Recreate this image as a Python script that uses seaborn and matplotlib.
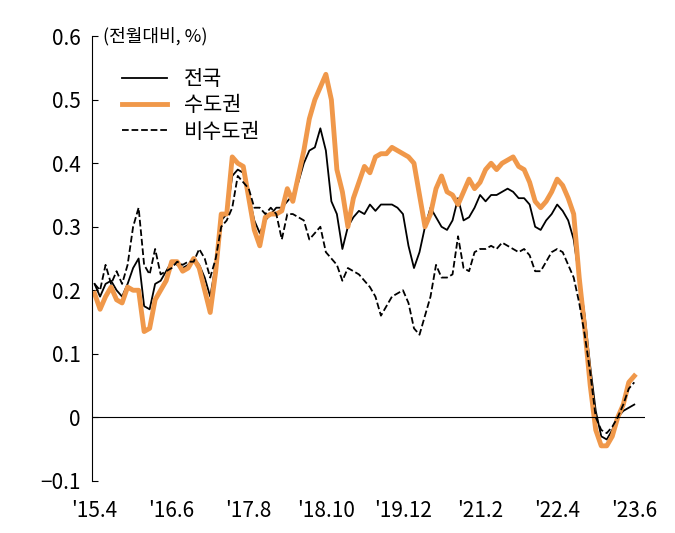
import pandas as pd
import numpy as np
import matplotlib
matplotlib.use("Agg")
import matplotlib.pyplot as plt
import seaborn as sns

plt.rcParams['font.family'] = 'Noto Sans CJK KR'

# monthly, 2015.4 ~ 2023.6
national = [0.21, 0.19, 0.21, 0.215, 0.20, 0.19, 0.21, 0.235, 0.25, 0.175,
            0.17, 0.21, 0.215, 0.23, 0.245, 0.24, 0.235, 0.24, 0.25, 0.24,
            0.22, 0.19, 0.24, 0.31, 0.32, 0.38, 0.39, 0.385, 0.35, 0.31,
            0.29, 0.31, 0.32, 0.33, 0.33, 0.34, 0.35, 0.37, 0.40, 0.42,
            0.425, 0.455, 0.42, 0.34, 0.32, 0.265, 0.30, 0.315, 0.325, 0.32,
            0.335, 0.325, 0.335, 0.335, 0.335, 0.33, 0.32, 0.27, 0.235, 0.26,
            0.30, 0.33, 0.315, 0.30, 0.295, 0.31, 0.345, 0.31, 0.315, 0.33,
            0.35, 0.34, 0.35, 0.35, 0.355, 0.36, 0.355, 0.345, 0.345, 0.335,
            0.30, 0.295, 0.31, 0.32, 0.335, 0.325, 0.31, 0.28, 0.22, 0.16,
            0.08, 0.01, -0.03, -0.035, -0.02, 0.0, 0.01, 0.015, 0.02]
capital = [0.195, 0.17, 0.19, 0.205, 0.185, 0.18, 0.205, 0.2, 0.2, 0.135,
           0.14, 0.185, 0.20, 0.215, 0.245, 0.245, 0.23, 0.235, 0.25, 0.235,
           0.20, 0.165, 0.23, 0.32, 0.32, 0.41, 0.40, 0.395, 0.345, 0.295,
           0.27, 0.315, 0.32, 0.32, 0.325, 0.36, 0.34, 0.38, 0.42, 0.47,
           0.50, 0.52, 0.54, 0.50, 0.39, 0.355, 0.30, 0.345, 0.37, 0.395,
           0.385, 0.41, 0.415, 0.415, 0.425, 0.42, 0.415, 0.41, 0.40, 0.35,
           0.30, 0.32, 0.36, 0.38, 0.355, 0.35, 0.335, 0.355, 0.375, 0.36,
           0.37, 0.39, 0.40, 0.39, 0.40, 0.405, 0.41, 0.395, 0.39, 0.37,
           0.34, 0.33, 0.34, 0.355, 0.375, 0.365, 0.345, 0.32, 0.22, 0.14,
           0.05, -0.02, -0.045, -0.045, -0.03, 0.0, 0.02, 0.055, 0.065]
non_capital = [0.21, 0.2, 0.24, 0.21, 0.23, 0.21, 0.24, 0.30, 0.33, 0.24,
               0.225, 0.265, 0.225, 0.23, 0.235, 0.245, 0.24, 0.245, 0.245, 0.265,
               0.25, 0.22, 0.25, 0.30, 0.31, 0.33, 0.38, 0.37, 0.36, 0.33,
               0.33, 0.32, 0.33, 0.32, 0.28, 0.32, 0.32, 0.315, 0.31, 0.28,
               0.29, 0.30, 0.26, 0.25, 0.24, 0.215, 0.235, 0.23, 0.225, 0.215,
               0.205, 0.19, 0.16, 0.175, 0.19, 0.195, 0.20, 0.18, 0.14, 0.13,
               0.16, 0.19, 0.24, 0.22, 0.22, 0.225, 0.285, 0.235, 0.23, 0.26,
               0.265, 0.265, 0.27, 0.265, 0.275, 0.27, 0.265, 0.26, 0.265, 0.255,
               0.23, 0.23, 0.245, 0.26, 0.265, 0.26, 0.24, 0.22, 0.18, 0.13,
               0.07, 0.0, -0.02, -0.025, -0.015, 0.0, 0.02, 0.045, 0.055]

tick_labels = ["'15.4", "'16.6", "'17.8", "'18.10", "'19.12", "'21.2", "'22.4", "'23.6"]
tick_pos = list(range(0, 99, 14))

df = pd.DataFrame({'month': np.arange(len(national)), '전국': national,
                   '수도권': capital, '비수도권': non_capital})

fig = plt.figure(figsize=(6.75, 5.33), dpi=100)
ax = fig.add_axes([0.136, 0.098, 0.82, 0.834])

sns.lineplot(data=df, x='month', y='전국', ax=ax, color='black', lw=1.3, label='전국')
sns.lineplot(data=df, x='month', y='수도권', ax=ax, color='#f0984a', lw=3.5, label='수도권')
sns.lineplot(data=df, x='month', y='비수도권', ax=ax, color='black', lw=1.3,
             linestyle='--', label='비수도권')

ax.axhline(0, color='black', lw=0.8)
ax.set_ylim(-0.1, 0.6)
ax.set_xlim(-0.5, 100)
ax.set_yticks(np.arange(-0.1, 0.61, 0.1))
ax.set_yticklabels(['−0.1', '0', '0.1', '0.2', '0.3', '0.4', '0.5', '0.6'])
ax.set_xticks(tick_pos)
ax.set_xticklabels(tick_labels)
ax.tick_params(axis='both', labelsize=15, length=0)
ax.tick_params(axis='x', pad=14)
ax.tick_params(axis='y', direction='in', length=4, pad=8)
ax.set_xlabel('')
ax.set_ylabel('')
for s in ['top', 'right', 'bottom']:
    ax.spines[s].set_visible(False)

ax.text(0.02, 1.0, '(전월대비, %)', transform=ax.transAxes, fontsize=13, va='center')
ax.legend(loc='upper left', bbox_to_anchor=(0.02, 0.97), frameon=False,
          fontsize=15, handlelength=2.2, labelspacing=0.2)

fig.savefig('out.png', dpi=100)
